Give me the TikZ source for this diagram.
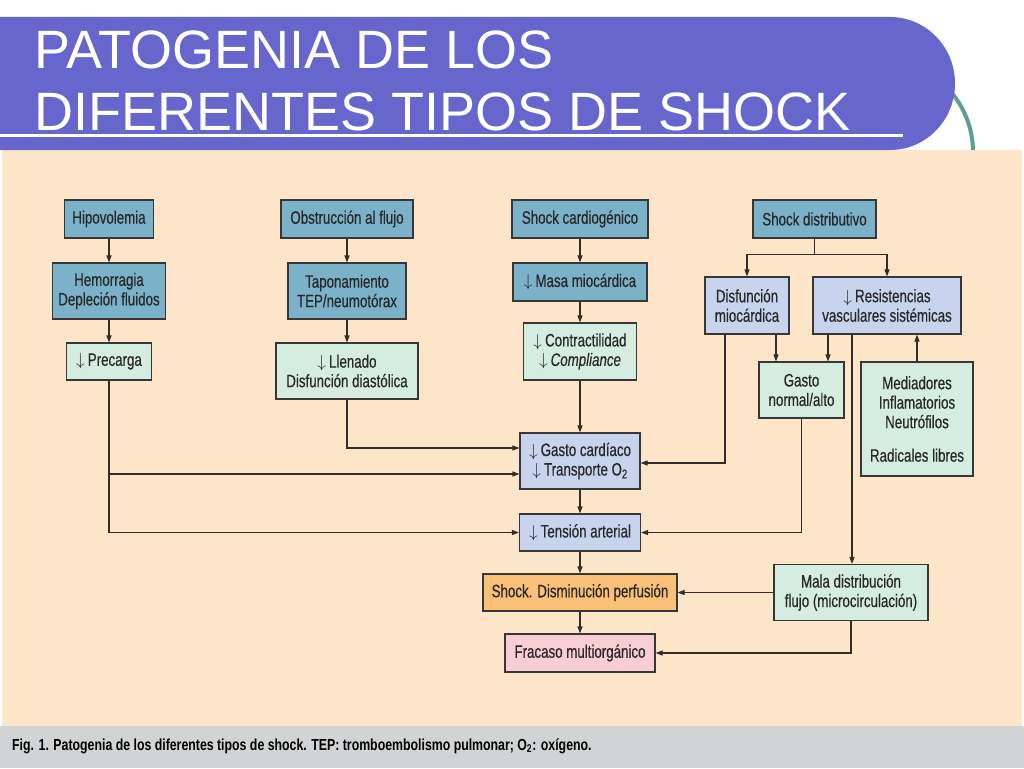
\documentclass[tikz,border=0pt]{standalone}
\usepackage{fontspec}
\setmainfont{Liberation Sans}
\newfontfamily\cond[FakeStretch=0.74,FakeBold=0.4]{Liberation Sans}
\newfontfamily\capfont[FakeStretch=0.77]{Liberation Sans}
\usetikzlibrary{arrows.meta}
\newcommand\mydown{$\downarrow$\,}
\definecolor{panel}{RGB}{253,229,201}
\definecolor{capgray}{RGB}{209,211,212}
\definecolor{titlepurple}{RGB}{102,102,204}
\definecolor{arcteal}{RGB}{95,158,150}
\definecolor{cblue}{RGB}{123,178,201}
\definecolor{cmint}{RGB}{213,237,224}
\definecolor{clav}{RGB}{200,212,238}
\definecolor{corange}{RGB}{250,192,120}
\definecolor{cpink}{RGB}{248,205,212}
\definecolor{boxline}{RGB}{55,55,55}
\definecolor{lnc}{RGB}{50,45,40}
\definecolor{txt}{RGB}{40,40,40}
\tikzset{
  box/.style={draw=boxline, line width=1.1pt, inner sep=0pt, align=center,
    font=\cond\fontsize{18}{19.5}\selectfont, text=txt},
  bblue/.style={box, fill=cblue},
  bmint/.style={box, fill=cmint},
  blav/.style={box, fill=clav},
  borange/.style={box, fill=corange},
  bpink/.style={box, fill=cpink},
  ln/.style={draw=lnc, line width=1.1pt},
  arr/.style={ln, -{Triangle[length=7pt,width=5pt]}},
  titletext/.style={anchor=base west, text=white, inner sep=0pt,
    font=\fontsize{54}{62}\selectfont}
}
\begin{document}
\begin{tikzpicture}[x=1pt,y=-1pt]
\useasboundingbox (0,0) rectangle (1024,768);
\fill[white] (0,0) rectangle (1024,768);
% decorative arc
\draw[arcteal, line width=4pt] (973,152) arc[start angle=0, end angle=-45, radius=93];
% panel and caption band
\fill[panel] (2,150) rectangle (1022,726);
\fill[capgray] (0,726) rectangle (1024,768);
% title band
\fill[titlepurple] (0,17) -- (890,17) arc[start angle=-90, end angle=90, x radius=65, y radius=66.5] -- (0,150) -- cycle;
\fill[white] (0,133.5) rectangle (903,136.5);
\node[titletext] (t1) at (34,68) {PATOGENIA DE LOS};
\node[titletext] (t2) at (34,130) {DIFERENTES TIPOS DE SHOCK};

% column 1
\node[bblue, minimum width=89, minimum height=38] (hipo) at (109,219) {Hipovolemia};
\node[bblue, minimum width=113, minimum height=56] (hemo) at (109,291) {Hemorragia\\Depleción fluidos};
\node[bmint, minimum width=85, minimum height=37] (prec) at (109,361.5) {\mydown Precarga};
% column 2
\node[bblue, minimum width=132, minimum height=38] (obst) at (347,219) {Obstrucción al flujo};
\node[bblue, minimum width=118, minimum height=56] (tapo) at (347,291) {Taponamiento\\TEP/neumotórax};
\node[bmint, minimum width=142, minimum height=56] (llen) at (347,371) {\mydown Llenado\\Disfunción diastólica};
% column 3
\node[bblue, minimum width=136, minimum height=38] (shc) at (580,219) {Shock cardiogénico};
\node[bblue, minimum width=134, minimum height=38] (masa) at (580,282) {\mydown Masa miocárdica};
\node[bmint, minimum width=113, minimum height=57] (contr) at (580,351.5) {\mydown Contractilidad\\\mydown\textit{Compliance}};
\node[blav, minimum width=120, minimum height=56] (gc) at (580,461) {\mydown Gasto cardíaco\\\mydown Transporte O\textsubscript{2}};
\node[blav, minimum width=121, minimum height=37] (ta) at (580,532.5) {\mydown Tensión arterial};
\node[borange, minimum width=194, minimum height=37] (perf) at (580,592.5) {Shock. Disminución perfusión};
\node[bpink, minimum width=150, minimum height=38] (frac) at (580,653) {Fracaso multiorgánico};
% distributive branch
\node[bblue, minimum width=123, minimum height=38] (sd) at (814.5,219) {Shock distributivo};
\node[blav, minimum width=84, minimum height=57] (disf) at (747,305.5) {Disfunción\\miocárdica};
\node[blav, minimum width=148, minimum height=57] (resi) at (887,305.5) {\mydown Resistencias\\vasculares sistémicas};
\node[bmint, minimum width=85, minimum height=56] (gno) at (801.5,390) {Gasto\\normal/alto};
\node[bmint, minimum width=112, minimum height=114] (medi) at (917,419) {Mediadores\\Inflamatorios\\Neutrófilos\\[14pt]Radicales libres};
\node[bmint, minimum width=154, minimum height=56] (mala) at (851,592.5) {Mala distribución\\flujo (microcirculación)};

% caption
\node[anchor=base west, inner sep=0pt, text=black, font=\capfont\bfseries\fontsize{16}{18}\selectfont] (cap) at (12,750)
  {Fig. 1. Patogenia de los diferentes tipos de shock. TEP: tromboembolismo pulmonar; O\textsubscript{2}: oxígeno.};

% connectors column 1, 2, 3
\draw[arr] (hipo.south) -- (hemo.north);
\draw[arr] (hemo.south) -- (prec.north);
\draw[arr] (obst.south) -- (tapo.north);
\draw[arr] (tapo.south) -- (llen.north);
\draw[arr] (shc.south) -- (masa.north);
\draw[arr] (masa.south) -- (contr.north);
\draw[arr] (contr.south) -- (gc.north);
\draw[arr] (gc.south) -- (ta.north);
\draw[arr] (ta.south) -- (perf.north);
\draw[arr] (perf.south) -- (frac.north);

\coordinate (gcw1) at ([yshift=-13pt]gc.west);
\coordinate (gcw2) at ([yshift=13pt]gc.west);
\coordinate (gce) at ([yshift=-2pt]gc.east);
\draw[arr] (prec.south) |- (ta.west);
\draw[arr] (prec.south |- gcw1) -- (gcw1);
\draw[arr] (llen.south) |- (gcw2);

% distributive connectors
\draw[ln] (sd.south) -- ++(0,16) coordinate (sdj);
\draw[arr] (sdj) -| (disf.north);
\draw[arr] (sdj) -| (resi.north);
\coordinate (d1) at ([xshift=-22pt]disf.south);
\coordinate (d2) at ([xshift=29pt]disf.south);
\coordinate (r1) at ([xshift=-59pt]resi.south);
\coordinate (r2) at ([xshift=-35pt]resi.south);
\draw[arr] (d1) |- (gce);
\draw[arr] (d2) -- (d2 |- gno.north);
\draw[arr] (r1) -- (r1 |- gno.north);
\draw[arr] (r2) -- (r2 |- mala.north);
\draw[arr] (medi.north) -- (medi.north |- resi.south);
\draw[arr] (gno.south) |- (ta.east);
\draw[arr] (mala.west) -- (perf.east);
\draw[arr] (mala.south) |- (frac.east);
\end{tikzpicture}
\end{document}
